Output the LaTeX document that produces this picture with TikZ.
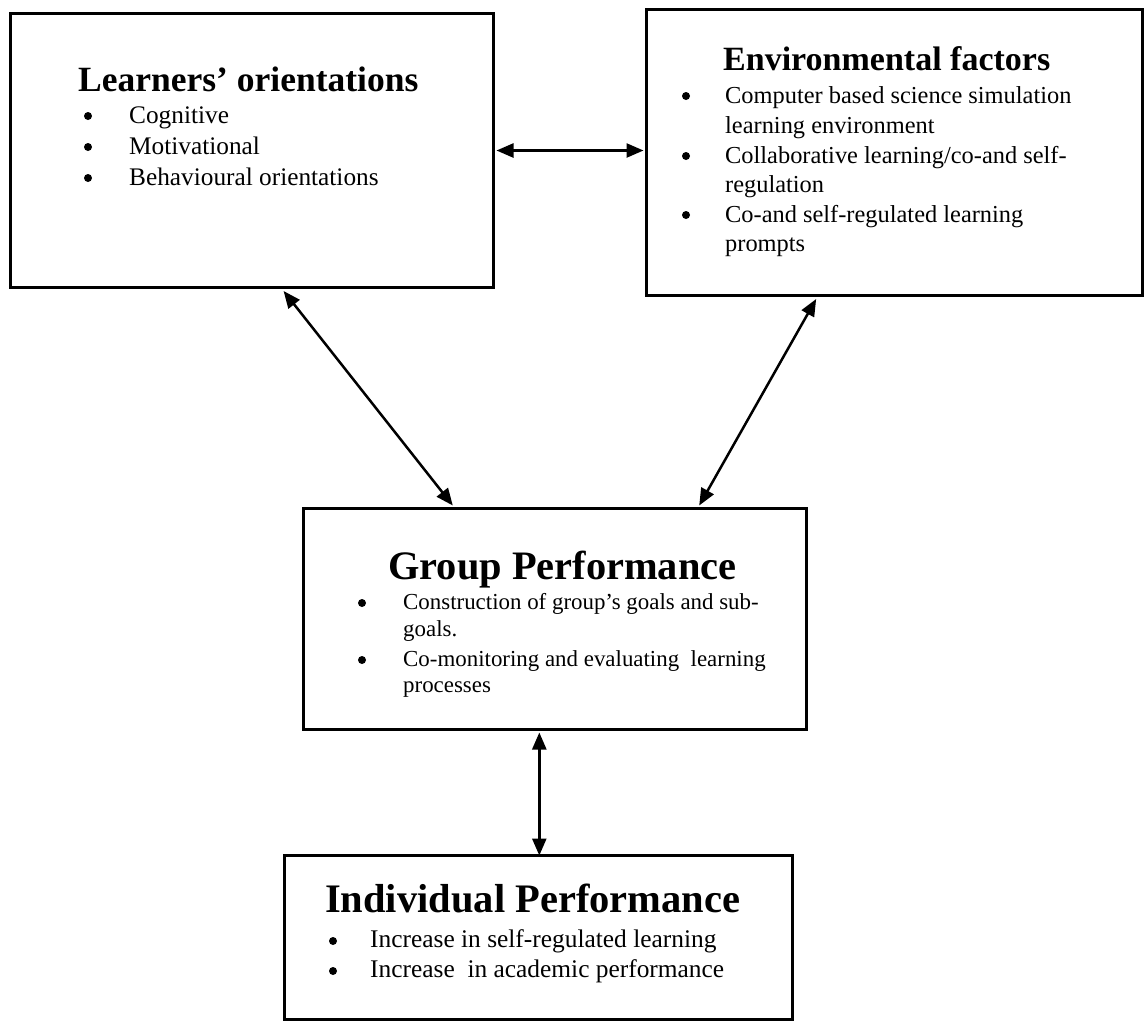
\documentclass[tikz,border=0pt]{standalone}
\usepackage{fontspec}
\setmainfont{Liberation Serif}
\usetikzlibrary{arrows.meta,calc}
\tikzset{
  box/.style={draw=black, line width=3pt, rectangle, inner sep=0pt, anchor=north west, fill=none},
  ttl/.style={anchor=base west, inner sep=0pt, font=\bfseries\fontsize{#1}{#1}\selectfont},
  itm/.style={anchor=base west, inner sep=0pt, font=\fontsize{#1}{#1}\selectfont},
  dot/.style={circle, fill=black, inner sep=0pt, minimum size=8pt},
  link/.style={line width=2.5pt, {Triangle[length=17pt,width=14pt]}-{Triangle[length=17pt,width=14pt]}}
}
\begin{document}
\begin{tikzpicture}[x=1pt,y=-1pt]
\useasboundingbox (0,0) rectangle (1144,1023);
\fill[white] (0,0) rectangle (1144,1023);
% boxes
\node[box, minimum width=483pt, minimum height=274pt] (b1) at (9,12) {};
\node[box, minimum width=496pt, minimum height=286pt] (b2) at (645,8) {};
\node[box, minimum width=503pt, minimum height=221pt] (b3) at (302,507) {};
\node[box, minimum width=508pt, minimum height=164pt] (b4) at (283,854) {};
% box 1 text
\node[ttl=35.5] (t1) at (78,91) {Learners’ orientations};
\node[dot] (b1u1) at (88,116) {};
\node[dot] (b1u2) at (88,147) {};
\node[dot] (b1u3) at (88,178) {};
\node[itm=25.3] (b1i1) at (129,123) {Cognitive};
\node[itm=25.3] (b1i2) at (129,154) {Motivational};
\node[itm=25.3] (b1i3) at (129,185) {Behavioural orientations};
% box 2 text
\node[ttl=34] (t2) at (723,70) {Environmental factors};
\node[dot] (b2u1) at (686,96) {};
\node[dot] (b2u2) at (686,156) {};
\node[dot] (b2u3) at (686,215) {};
\node[itm=24.4] (b2i1) at (725,103) {Computer based science simulation};
\node[itm=24.4] (b2i2) at (725,133) {learning environment};
\node[itm=24.4] (b2i3) at (725,163) {Collaborative learning/co-and self-};
\node[itm=24.4] (b2i4) at (725,192) {regulation};
\node[itm=24.4] (b2i5) at (725,222) {Co-and self-regulated learning};
\node[itm=24.4] (b2i6) at (725,251) {prompts};
% box 3 text
\node[ttl=40.4] (t3) at (388,579) {Group Performance};
\node[dot] (b3u1) at (362,603) {};
\node[dot] (b3u2) at (362,660) {};
\node[itm=22.9] (b3i1) at (403,609) {Construction of group’s goals and sub-};
\node[itm=22.9] (b3i2) at (403,636) {goals.};
\node[itm=22.9] (b3i3) at (403,666) {Co-monitoring and evaluating~ learning};
\node[itm=22.9] (b3i4) at (403,692) {processes};
% box 4 text
\node[ttl=40.5] (t4) at (325,912) {Individual Performance};
\node[dot] (b4u1) at (333,941) {};
\node[dot] (b4u2) at (333,971) {};
\node[itm=25.4] (b4i1) at (370,947) {Increase in self-regulated learning};
\node[itm=25.4] (b4i2) at (370,977) {Increase~ in academic performance};
% connectors
\draw[link] ([xshift=1.5pt]b1.east) -- ([xshift=-1.5pt]b1.east -| b2.west);
\draw[link] ($(b1.south west)!0.565!(b1.south east)+(0,2)$) -- ($(b3.north west)!0.298!(b3.north east)+(0,-1.5)$);
\draw[link] ($(b2.south west)!0.343!(b2.south east)+(0,2)$) -- ($(b3.north west)!0.785!(b3.north east)+(0,-1.5)$);
\coordinate (vtop) at ($(b3.south west)!0.469!(b3.south east)+(0,1.5)$);
\draw[link] (vtop) -- ([yshift=-1.5pt]vtop |- b4.north);
\end{tikzpicture}
\end{document}
